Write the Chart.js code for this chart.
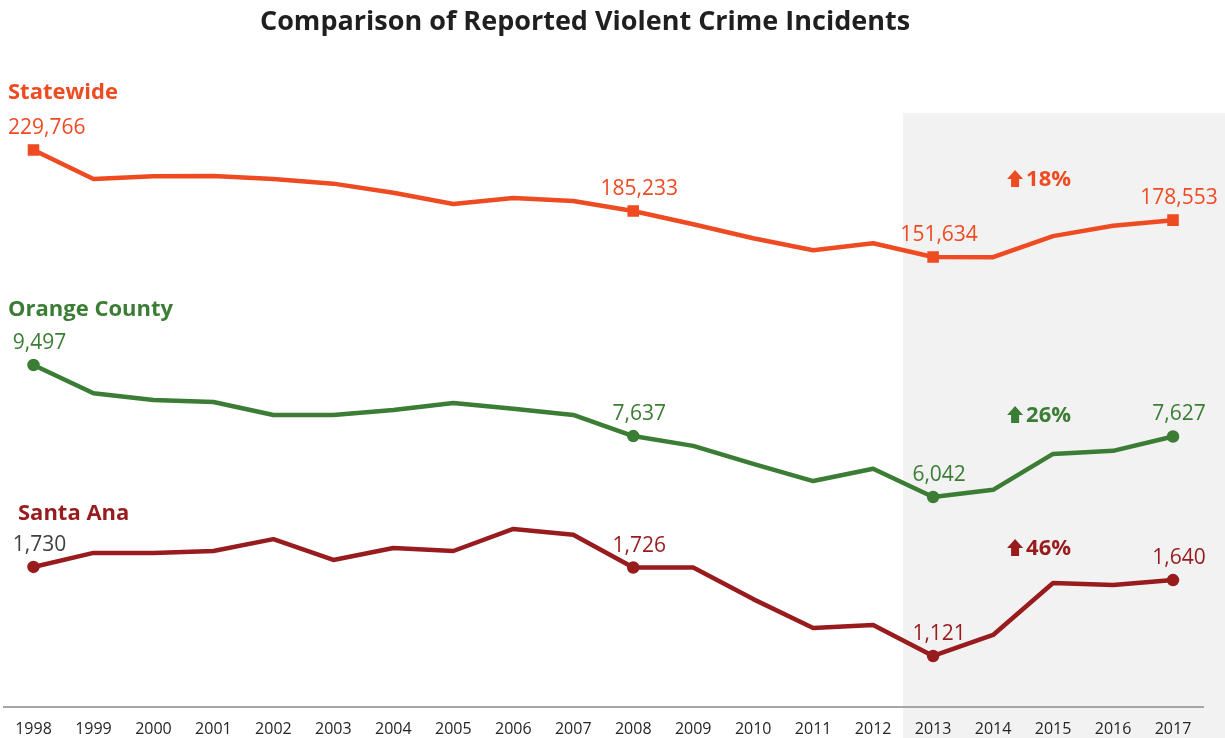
<!DOCTYPE html>
<html>
<head>
<meta charset="utf-8">
<script src="https://cdn.jsdelivr.net/npm/chart.js@4/dist/chart.umd.min.js"></script>
<style>
  html, body { margin: 0; padding: 0; background: #ffffff; }
  #wrap { width: 1225px; height: 738px; position: relative; overflow: hidden; }
  #crime { position: absolute; left: -6px; top: 0; }
</style>
</head>
<body>
<div id="wrap"><canvas id="crime" width="1231" height="738"></canvas></div>
<script>
const years = ["1998", "1999", "2000", "2001", "2002", "2003", "2004", "2005", "2006", "2007",
               "2008", "2009", "2010", "2011", "2012", "2013", "2014", "2015", "2016", "2017"];

const statewide = [229766, 208600, 210600, 210800, 208600, 205200, 198500, 190300, 194700, 192500,
                   185233, 175600, 165300, 156600, 161700, 151634, 151500, 166900, 174500, 178553];
const orangeCounty = [9497, 8760, 8580, 8530, 8190, 8190, 8320, 8500, 8350, 8190,
                      7637, 7380, 6910, 6460, 6780, 6042, 6230, 7170, 7250, 7627];
const santaAna = [1730, 1826, 1826, 1839, 1920, 1778, 1860, 1839, 1990, 1950,
                  1726, 1726, 1510, 1313, 1333, 1121, 1265, 1620, 1607, 1640];

const seriesNames = ["Statewide", "Orange County", "Santa Ana"];
const changeLabels = ["18%", "26%", "46%"];
const labelled = [0, 10, 15, 19];   // points that carry a value label and a marker

const colors = ["#ee4b22", "#3b7d34", "#981b1e"];
const FONT = "'Open Sans', 'DejaVu Sans', sans-serif";
const SHIFT = 6;   // canvas sits 6px left of the page edge (chart.js keeps a min left padding)

function markerSize(r) {
  return ctx => labelled.includes(ctx.dataIndex) ? r : 0;
}

function arrow(c, cx, cy, color) {
  c.fillStyle = color;
  c.beginPath();
  c.moveTo(cx, cy - 9);
  c.lineTo(cx + 8, cy);
  c.lineTo(cx + 4, cy);
  c.lineTo(cx + 4, cy + 8);
  c.lineTo(cx - 4, cy + 8);
  c.lineTo(cx - 4, cy);
  c.lineTo(cx - 8, cy);
  c.closePath();
  c.fill();
}

const decor = {
  id: "decor",
  beforeDraw(chart) {
    // grey band behind 2013-2017, drawn before the axis so its labels stay on top
    const c = chart.ctx, x = chart.scales.x;
    const step = x.getPixelForValue(1) - x.getPixelForValue(0);
    const left = x.getPixelForValue(15) - step / 2;
    c.save();
    c.fillStyle = "#f2f2f2";
    c.fillRect(left, chart.chartArea.top, chart.width - left, chart.height - chart.chartArea.top);
    c.restore();
  },
  afterDraw(chart) {
    const c = chart.ctx, x = chart.scales.x;
    c.save();
    // title
    c.fillStyle = "#1f1f1f";
    c.font = "bold 27px " + FONT;
    c.textAlign = "center";
    c.textBaseline = "middle";
    c.fillText("Comparison of Reported Violent Crime Incidents", 585 + SHIFT, 22);

    // series names
    const nameY = [93, 310, 514];
    const nameX = [8, 8, 18];
    c.textAlign = "left";
    c.font = "bold 22px " + FONT;
    seriesNames.forEach((n, i) => {
      c.fillStyle = colors[i];
      c.fillText(n, nameX[i] + SHIFT, nameY[i]);
    });

    // value labels
    c.font = "21px " + FONT;
    c.textAlign = "center";
    chart.data.datasets.forEach((ds, i) => {
      const meta = chart.getDatasetMeta(i);
      labelled.forEach(idx => {
        const p = meta.data[idx];
        const txt = ds.data[idx].toLocaleString("en-US");
        const w = c.measureText(txt).width;
        const cx = Math.max(p.x + 6, 8 + SHIFT + w / 2);
        c.fillStyle = (i === 2 && idx === 0) ? "#404040" : colors[i];
        c.fillText(txt, cx, p.y - 22);
      });
    });

    // change annotations
    const changeY = [179, 415, 548];
    const ax = x.getPixelForValue(16) + 22;
    c.font = "bold 22px " + FONT;
    c.textAlign = "left";
    changeLabels.forEach((t, i) => {
      arrow(c, ax, changeY[i], colors[i]);
      c.fillStyle = colors[i];
      c.fillText(t, ax + 11, changeY[i] + 1);
    });
    c.restore();
  }
};

new Chart(document.getElementById("crime"), {
  type: "line",
  data: {
    labels: years,
    datasets: [
      { label: seriesNames[0], data: statewide, yAxisID: "ys", borderColor: colors[0], backgroundColor: colors[0],
        borderWidth: 4.5, pointStyle: "rect", pointRadius: markerSize(5), tension: 0 },
      { label: seriesNames[1], data: orangeCounty, yAxisID: "yo", borderColor: colors[1], backgroundColor: colors[1],
        borderWidth: 4.5, pointRadius: markerSize(4), tension: 0 },
      { label: seriesNames[2], data: santaAna, yAxisID: "ya", borderColor: colors[2], backgroundColor: colors[2],
        borderWidth: 4.5, pointRadius: markerSize(4), tension: 0 }
    ]
  },
  options: {
    responsive: false,
    animation: false,
    layout: { padding: { top: 113, left: 3, right: 22, bottom: 0 } },
    plugins: { legend: { display: false }, tooltip: { enabled: false }, title: { display: false } },
    elements: { point: { hoverRadius: 0 }, line: { borderCapStyle: "round", borderJoinStyle: "round" } },
    scales: {
      x: {
        offset: true,
        grid: { display: false },
        border: { display: true, color: "#a6a6a6", width: 2 },
        ticks: { color: "#262626", font: { family: FONT, size: 16 }, padding: 5, maxRotation: 0, autoSkip: false },
        afterFit(scale) { scale.height = 31; }
      },
      ys: { display: false, min: -176956, max: 256783 },
      yo: { display: false, min: 547, max: 16092 },
      ya: { display: false, min: 772, max: 4835 }
    }
  },
  plugins: [decor]
});
</script>
</body>
</html>
